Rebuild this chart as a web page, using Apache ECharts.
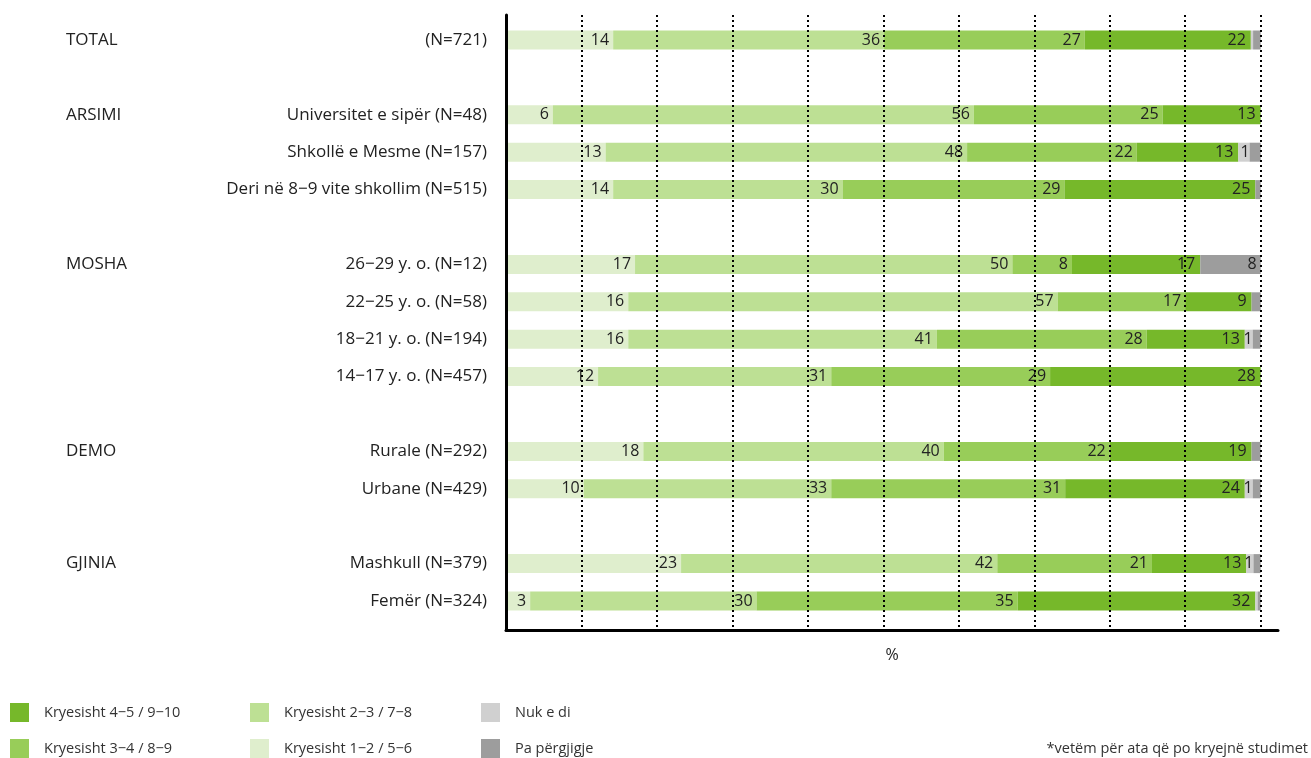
<!DOCTYPE html>
<html><head><meta charset="utf-8">
<script src="https://cdn.jsdelivr.net/npm/echarts@6/dist/echarts.min.js"></script>
<style>html,body{margin:0;padding:0;background:#fff}#c{width:1311px;height:758px}</style>
</head><body><div id="c"></div>
<script>
const groupLabels = ['TOTAL', '', 'ARSIMI', '', '', '', 'MOSHA', '', '', '', '', 'DEMO', '', '', 'GJINIA', ''];
const subLabels = ['(N=721)', '', 'Universitet e sipër (N=48)', 'Shkollë e Mesme (N=157)', 'Deri në 8−9 vite shkollim (N=515)', '',
  '26−29 y. o. (N=12)', '22−25 y. o. (N=58)', '18−21 y. o. (N=194)', '14−17 y. o. (N=457)', '',
  'Rurale (N=292)', 'Urbane (N=429)', '', 'Mashkull (N=379)', 'Femër (N=324)'];
const seriesNames = ['Kryesisht 1−2 / 5−6', 'Kryesisht 2−3 / 7−8', 'Kryesisht 3−4 / 8−9', 'Kryesisht 4−5 / 9−10', 'Nuk e di', 'Pa përgjigje'];
const v12 = [14.2, null, 6.2, 13.2, 14.2, null, 17.1, 16.2, 16.2, 12.2, null, 18.2, 10.3, null, 23.2, 3.2];
const v23 = [35.9, null, 55.8, 47.9, 30.4, null, 50.0, 56.9, 40.9, 30.9, null, 39.8, 32.8, null, 41.9, 30.0];
const v34 = [26.6, null, 25.0, 22.49, 29.4, null, 7.9, 16.9, 27.8, 29.0, null, 22.0, 31.0, null, 20.5, 34.6];
const v45 = [22.0, null, 13.0, 13.45, 25.3, null, 17.0, 8.8, 13.0, 27.9, null, 18.8, 23.8, null, 12.5, 31.5];
const vNuk = [0.3, null, null, 1.49, null, null, null, null, 1.05, null, null, null, 1.05, null, 0.95, 0.3];
const vPa = [1.0, null, null, 1.47, 0.7, null, 8.0, 1.2, 1.05, null, null, 1.2, 1.05, null, 0.95, 0.4];
const seriesValues = [v12, v23, v34, v45, vNuk, vPa];
const colors = ['#dfeecd', '#bde094', '#98cd59', '#76b82a', '#d0d0d0', '#9d9d9d'];
const labelMin = [0.5, 0.5, 0.5, 0.5, 0.9, 2];
const labelDist = [4, 4, 4, 5, 0, 4];
const FONT = 'Open Sans';

const chart = echarts.init(document.getElementById('c'));
const series = seriesValues.map((vals, k) => ({
  name: seriesNames[k], type: 'bar', stack: 'all', xAxisIndex: 0, yAxisIndex: 0,
  barWidth: 19, data: vals, itemStyle: { color: colors[k] },
  label: {
    show: true, position: 'insideRight', distance: labelDist[k], color: '#222', fontFamily: FONT, fontSize: 16,
    formatter: p => (p.value != null && p.value >= labelMin[k]) ? String(Math.round(p.value)) : ''
  }
}));
const legendBase = {
  orient: 'vertical', top: 703, height: 60, itemWidth: 19, itemHeight: 19, itemGap: 17, icon: 'rect', padding: 0,
  selectedMode: false,
  textStyle: { fontFamily: FONT, fontSize: 14.5, color: '#333', padding: [0, 0, 0, 10] }
};
chart.setOption({
  animation: false,
  color: colors,
  title: {
    text: '*vetëm për ata që po kryejnë studimet', right: 3, top: 741, padding: 0,
    textStyle: { fontFamily: FONT, fontSize: 14.5, fontWeight: 'normal', color: '#333' }
  },
  legend: [
    Object.assign({}, legendBase, { left: 10, data: [seriesNames[3], seriesNames[2]] }),
    Object.assign({}, legendBase, { left: 250, data: [seriesNames[1], seriesNames[0]] }),
    Object.assign({}, legendBase, { left: 481, data: [seriesNames[4], seriesNames[5]] })
  ],
  grid: [
    { left: 506, right: 33, top: 21.3, height: 598.4, containLabel: false, outerBoundsMode: 'none' },
    { left: 506, right: 33, top: 15, bottom: 128, containLabel: false, outerBoundsMode: 'none' }
  ],
  xAxis: [
    { type: 'value', gridIndex: 0, min: 0, max: 102.3, show: false, position: 'bottom' },
    { type: 'value', gridIndex: 1, min: 0, max: 102.3, interval: 10, z: 10, position: 'bottom',
      axisLine: { show: true, lineStyle: { color: '#000', width: 3 } },
      axisTick: { show: false }, axisLabel: { show: false },
      splitLine: { show: true, showMinLine: false, showMaxLine: false, lineStyle: { color: '#000', width: 2, type: [2, 3] } },
      name: '%', nameLocation: 'middle', nameGap: 17,
      nameTextStyle: { fontFamily: FONT, fontSize: 16, color: '#222' } }
  ],
  yAxis: [
    { type: 'category', gridIndex: 0, position: 'left', inverse: true, data: subLabels.map((_, i) => 'r' + i),
      axisLine: { show: false }, axisTick: { show: false }, splitLine: { show: false },
      axisLabel: { margin: 19, color: '#222', fontFamily: FONT, fontSize: 17, interval: 0,
        formatter: (v, i) => subLabels[i] } },
    { type: 'category', gridIndex: 0, position: 'left', inverse: true, data: groupLabels.map((_, i) => 'g' + i),
      axisLine: { show: false }, axisTick: { show: false }, splitLine: { show: false },
      axisLabel: { margin: 440, align: 'left', color: '#222', fontFamily: FONT, fontSize: 17, interval: 0,
        formatter: (v, i) => groupLabels[i] } },
    { type: 'value', gridIndex: 1, position: 'left', min: 0, max: 1, z: 10,
      axisLine: { show: true, lineStyle: { color: '#000', width: 3 } },
      axisTick: { show: false }, axisLabel: { show: false }, splitLine: { show: false } }
  ],
  series: series
});
</script></body></html>
